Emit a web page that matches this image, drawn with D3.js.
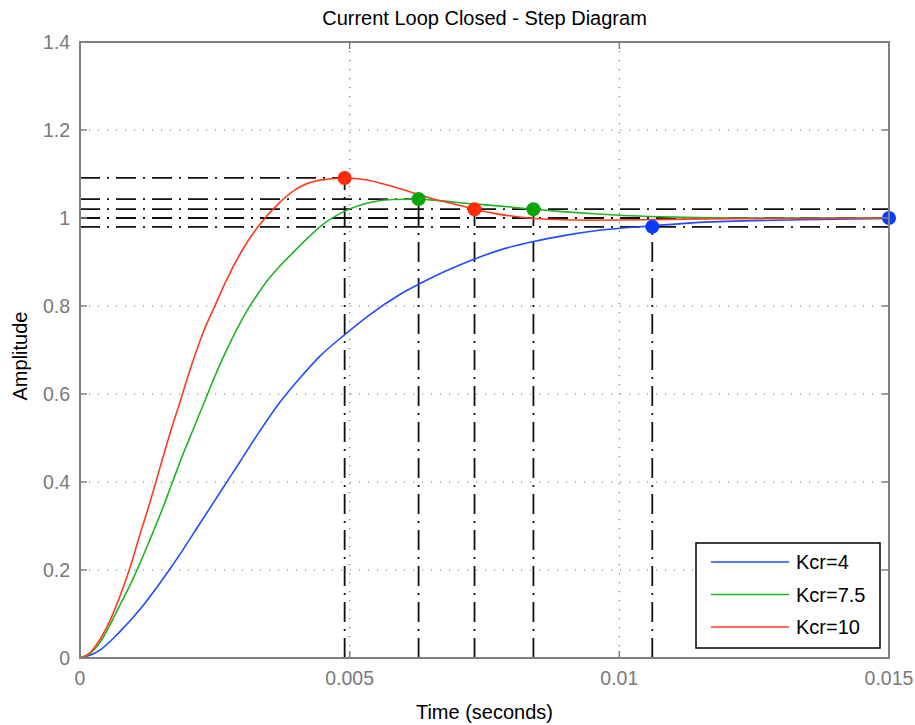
<!DOCTYPE html>
<html lang="en">
<head>
<meta charset="UTF-8">
<title>Current Loop Closed - Step Diagram</title>
<script src="https://d3js.org/d3.v7.min.js"></script>
<style>
    body { margin: 0; background: #fff; font-family: 'Liberation Sans', Arial, sans-serif; }
    .grid line { stroke: #777; stroke-width: 1.2; stroke-dasharray: 1.2,7.8; }
    .guide { stroke: #111; stroke-width: 1.8; stroke-dasharray: 20,7,2,7; fill: none; }
    .curve { fill: none; stroke-width: 1.6; }
    .tick-label { fill: #7a7a7a; font-size: 19.5px; }
</style>
</head>
<body>
<svg id="chart" width="915" height="725"></svg>
<script>
// step responses: [time (s), amplitude]
const kcr4 = [
    [0, 0], [0.000185, 0.006], [0.00037, 0.018], [0.00074, 0.06], [0.00111, 0.11],
    [0.00148, 0.17], [0.00185, 0.235], [0.00222, 0.305], [0.00259, 0.375],
    [0.00296, 0.445], [0.00333, 0.515], [0.0037, 0.58], [0.00407, 0.635],
    [0.00444, 0.685], [0.00491, 0.735], [0.00537, 0.78], [0.00593, 0.826],
    [0.00648, 0.862], [0.00704, 0.893], [0.00778, 0.927], [0.00839, 0.946],
    [0.00902, 0.961], [0.00963, 0.972], [0.010611, 0.982], [0.01148, 0.99],
    [0.01333, 0.996], [0.015, 0.999]
];
const kcr75 = [
    [0, 0], [0.000185, 0.01], [0.00037, 0.035], [0.000556, 0.075], [0.00074, 0.12],
    [0.000926, 0.165], [0.00111, 0.215], [0.0013, 0.27], [0.0015, 0.33], [0.0017, 0.395],
    [0.0019, 0.46], [0.0021, 0.52], [0.0023, 0.58], [0.0025, 0.64], [0.0027, 0.695],
    [0.0029, 0.745], [0.0031, 0.79], [0.0033, 0.828], [0.0035, 0.862], [0.0037, 0.89],
    [0.0039, 0.915], [0.0042, 0.952], [0.0045, 0.985], [0.0049, 1.015], [0.0054, 1.036],
    [0.0058, 1.042], [0.006278, 1.043], [0.0067, 1.039], [0.0072, 1.033], [0.0078, 1.027],
    [0.008407, 1.02], [0.009, 1.014], [0.0096, 1.009], [0.0102, 1.005], [0.011, 1.002],
    [0.0124, 1.0], [0.015, 1.0]
];
const kcr10 = [
    [0, 0], [0.000185, 0.012], [0.00037, 0.042], [0.000556, 0.085], [0.00074, 0.14],
    [0.000926, 0.205], [0.00111, 0.28], [0.0013, 0.355], [0.0015, 0.44], [0.00167, 0.511],
    [0.00185, 0.58], [0.002, 0.64], [0.00215, 0.695], [0.0023, 0.745], [0.0025, 0.8],
    [0.0027, 0.855], [0.003, 0.925], [0.0033, 0.98], [0.0037, 1.035], [0.004, 1.065],
    [0.0044, 1.085], [0.004907, 1.091], [0.0053, 1.087], [0.0057, 1.075], [0.0061, 1.06],
    [0.0065, 1.045], [0.0069, 1.033], [0.007315, 1.02], [0.0077, 1.01], [0.0081, 1.003],
    [0.0087, 0.997], [0.0095, 0.995], [0.0105, 0.996], [0.0115, 0.998], [0.0133, 0.999],
    [0.015, 1.0]
];

// peak and settling markers: [time, amplitude]
const peaks = [[0.015, 1.0], [0.006278, 1.043], [0.004907, 1.091]];
const settling = [[0.010611, 0.98], [0.008407, 1.02], [0.007315, 1.02]];
const bandLevels = [0.98, 1.02];

const seriesNames = ["Kcr=4", "Kcr=7.5", "Kcr=10"];
const seriesColors = ["#1f4dff", "#22b422", "#ff3a1f"];
const markerColors = ["#0a3cff", "#0aa50a", "#ff2a0a"];
const seriesData = [kcr4, kcr75, kcr10];

const xTicks = [0, 0.005, 0.01, 0.015];
const xTickLabels = ["0", "0.005", "0.01", "0.015"];
const yTicks = [0, 0.2, 0.4, 0.6, 0.8, 1, 1.2, 1.4];
const yTickLabels = ["0", "0.2", "0.4", "0.6", "0.8", "1", "1.2", "1.4"];

const margin = { top: 42, right: 26, bottom: 67, left: 80 };
const width = 915 - margin.left - margin.right;
const height = 725 - margin.top - margin.bottom;

const svg = d3.select("#chart");
const g = svg.append("g").attr("transform", `translate(${margin.left},${margin.top})`);

const x = d3.scaleLinear().domain([0, 0.015]).range([0, width]);
const y = d3.scaleLinear().domain([0, 1.4]).range([height, 0]);

// dotted grid
const grid = g.append("g").attr("class", "grid");
grid.selectAll(".gx").data(xTicks).enter().append("line")
    .attr("x1", d => x(d)).attr("x2", d => x(d))
    .attr("y1", 0).attr("y2", height);
grid.selectAll(".gy").data(yTicks).enter().append("line")
    .attr("x1", 0).attr("x2", width)
    .attr("y1", d => y(d)).attr("y2", d => y(d));

// characteristic guide lines (dash-dot)
const guides = g.append("g");
peaks.forEach(p => {
    guides.append("line").attr("class", "guide")
        .attr("x1", x(0)).attr("x2", x(p[0])).attr("y1", y(p[1])).attr("y2", y(p[1]));
    guides.append("line").attr("class", "guide")
        .attr("x1", x(p[0])).attr("x2", x(p[0])).attr("y1", y(0)).attr("y2", y(p[1]));
});
bandLevels.forEach(v => {
    guides.append("line").attr("class", "guide")
        .attr("x1", x(0)).attr("x2", x(0.015)).attr("y1", y(v)).attr("y2", y(v));
});
settling.forEach(s => {
    guides.append("line").attr("class", "guide")
        .attr("x1", x(s[0])).attr("x2", x(s[0])).attr("y1", y(0)).attr("y2", y(s[1]));
});

// curves
const line = d3.line()
    .x(d => x(d[0]))
    .y(d => y(d[1]))
    .curve(d3.curveMonotoneX);

seriesData.forEach((data, i) => {
    g.append("path")
        .datum(data)
        .attr("class", "curve")
        .attr("stroke", seriesColors[i])
        .attr("d", line);
});

// markers
[peaks, settling].forEach(set => {
    g.selectAll(null).data(set).enter().append("circle")
        .attr("cx", d => x(d[0]))
        .attr("cy", d => y(d[1]))
        .attr("r", 7)
        .attr("fill", (d, i) => markerColors[i]);
});

// axes box and inward ticks
g.append("rect")
    .attr("width", width).attr("height", height)
    .attr("fill", "none").attr("stroke", "#808080").attr("stroke-width", 2);

const tickLen = 7;
xTicks.forEach(t => {
    g.append("line").attr("x1", x(t)).attr("x2", x(t)).attr("y1", height).attr("y2", height - tickLen)
        .attr("stroke", "#808080").attr("stroke-width", 1.5);
    g.append("line").attr("x1", x(t)).attr("x2", x(t)).attr("y1", 0).attr("y2", tickLen)
        .attr("stroke", "#808080").attr("stroke-width", 1.5);
});
yTicks.forEach(t => {
    g.append("line").attr("x1", 0).attr("x2", tickLen).attr("y1", y(t)).attr("y2", y(t))
        .attr("stroke", "#808080").attr("stroke-width", 1.5);
    g.append("line").attr("x1", width).attr("x2", width - tickLen).attr("y1", y(t)).attr("y2", y(t))
        .attr("stroke", "#808080").attr("stroke-width", 1.5);
});

// tick labels
g.selectAll(".xl").data(xTicks).enter().append("text")
    .attr("class", "tick-label")
    .attr("x", d => x(d)).attr("y", height + 27)
    .attr("text-anchor", "middle")
    .text((d, i) => xTickLabels[i]);
g.selectAll(".yl").data(yTicks).enter().append("text")
    .attr("class", "tick-label")
    .attr("x", -10).attr("y", d => y(d) + 7)
    .attr("text-anchor", "end")
    .text((d, i) => yTickLabels[i]);

// titles
svg.append("text")
    .attr("x", margin.left + width / 2).attr("y", 25)
    .attr("text-anchor", "middle").attr("font-size", 20).attr("fill", "#000")
    .text("Current Loop Closed - Step Diagram");
svg.append("text")
    .attr("x", margin.left + width / 2).attr("y", 719)
    .attr("text-anchor", "middle").attr("font-size", 20).attr("fill", "#000")
    .text("Time (seconds)");
svg.append("text")
    .attr("transform", `translate(27,${margin.top + height / 2 + 6}) rotate(-90)`)
    .attr("text-anchor", "middle").attr("font-size", 20).attr("fill", "#000")
    .text("Amplitude");

// legend
const legend = svg.append("g").attr("transform", "translate(696,543)");
legend.append("rect")
    .attr("width", 184).attr("height", 105)
    .attr("fill", "#fff").attr("stroke", "#000").attr("stroke-width", 1.5);
seriesNames.forEach((name, i) => {
    const ly = 19 + i * 32.5;
    legend.append("line")
        .attr("x1", 15).attr("x2", 93).attr("y1", ly).attr("y2", ly)
        .attr("stroke", seriesColors[i]).attr("stroke-width", 1.6);
    legend.append("text")
        .attr("x", 100).attr("y", ly + 7)
        .attr("font-size", 20).attr("fill", "#000")
        .text(name);
});
</script>
</body>
</html>
